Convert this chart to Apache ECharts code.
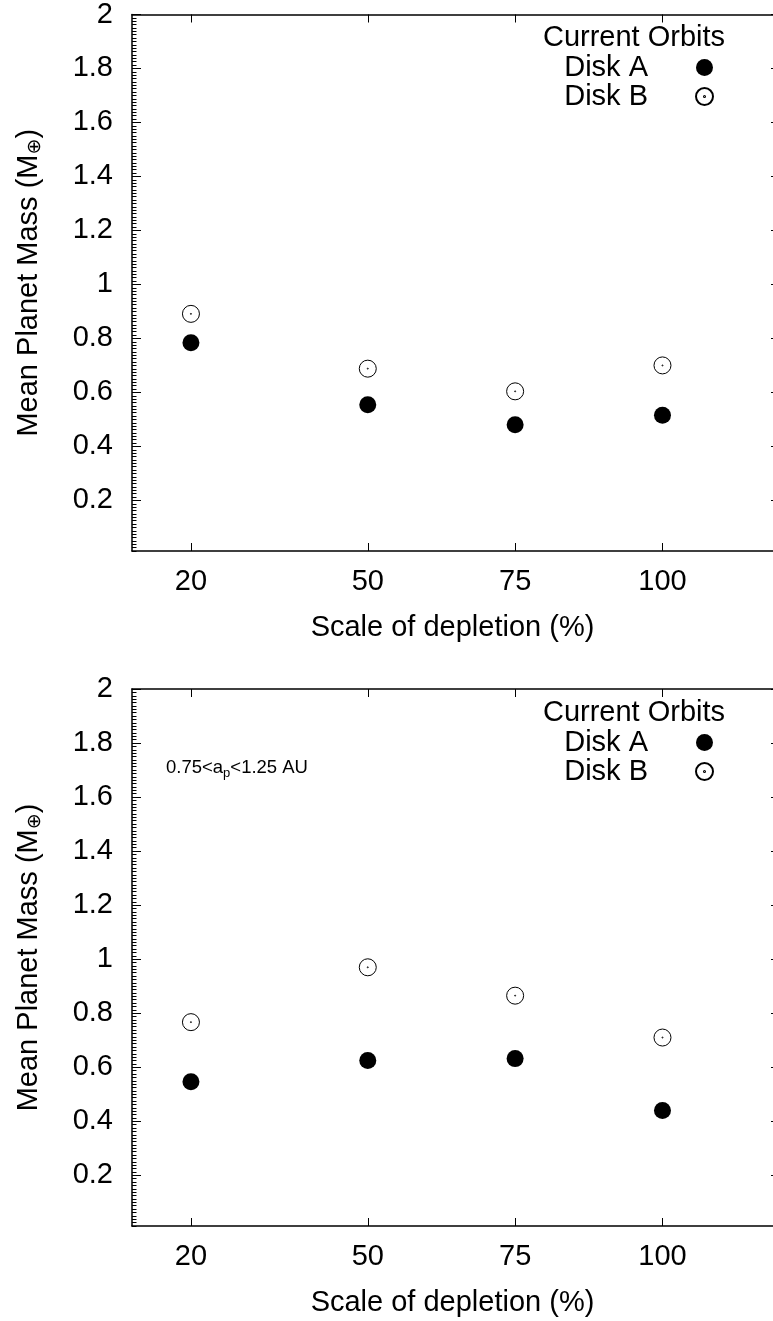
<!DOCTYPE html>
<html>
<head>
<meta charset="utf-8">
<script src="https://cdn.jsdelivr.net/npm/echarts@6/dist/echarts.min.js"></script>
<style>
  html, body { margin: 0; padding: 0; background: #fff; }
  #chart { width: 773px; height: 1321px; }
</style>
</head>
<body>
<div id="chart"></div>
<script>
// data
const depletion = [20, 50, 75, 100];
const topDiskA = [0.784, 0.554, 0.480, 0.515];
const topDiskB = [0.891, 0.688, 0.604, 0.700];
const botDiskA = [0.546, 0.625, 0.632, 0.440];
const botDiskB = [0.767, 0.970, 0.865, 0.710];
const xTicks = [20, 50, 75, 100];
const yTicks = [0.2, 0.4, 0.6, 0.8, 1, 1.2, 1.4, 1.6, 1.8, 2];
const seriesNames = ["Disk A", "Disk B"];

const FONT = "'Liberation Sans', Arial, 'DejaVu Sans', sans-serif";
const FS = 29;
const BLACK = "#000";
// open circle with a tiny centre dot (gnuplot style)
const RING = "path://M10,0A10,10,0,1,1,10,20A10,10,0,1,1,10,0ZM10,9.4A0.6,0.6,0,1,1,10,10.6A0.6,0.6,0,1,1,10,9.4Z";

// the original plot is cut off on the right, so the x range ends just short of 120
const X_MIN = 10, X_MAX = 118.75;

const panels = [
  { top: 14, a: topDiskA, b: topDiskB },
  { top: 689, a: botDiskA, b: botDiskB },
];

const pairs = (xs, ys) => xs.map((x, i) => [x, ys[i]]);
const line = { show: true, onZero: false, lineStyle: { color: BLACK, width: 1.5 } };

const grid = [], xAxis = [], yAxis = [], series = [], legend = [];
panels.forEach((p, i) => {
  grid.push({ left: 132, top: p.top, right: 0, height: 537 });

  xAxis.push({
    gridIndex: i, type: "value", min: X_MIN, max: X_MAX, position: "bottom",
    axisLine: line, splitLine: { show: false },
    axisTick: { inside: true, length: 8, customValues: xTicks, lineStyle: { color: BLACK, width: 1 } },
    axisLabel: { customValues: xTicks, margin: 16, fontSize: FS, color: BLACK, fontFamily: FONT },
    name: "Scale of depletion (%)", nameLocation: "middle", nameGap: 62,
    nameTextStyle: { fontSize: FS, color: BLACK, fontFamily: FONT },
  });
  xAxis.push({
    gridIndex: i, type: "value", min: X_MIN, max: X_MAX, position: "top",
    axisLine: line, splitLine: { show: false }, axisLabel: { show: false },
    axisTick: { inside: true, length: 8, customValues: xTicks, lineStyle: { color: BLACK, width: 1 } },
  });

  yAxis.push({
    gridIndex: i, type: "value", min: 0.0125, max: 2, position: "left",
    axisLine: line, splitLine: { show: false },
    axisTick: { inside: true, length: 9, customValues: yTicks, lineStyle: { color: BLACK, width: 1 } },
    axisLabel: { customValues: yTicks, margin: 19, fontSize: FS, color: BLACK, fontFamily: FONT },
    name: "Mean Planet Mass (M{sub|⊕})", nameLocation: "middle", nameRotate: 90, nameGap: 88,
    nameTextStyle: {
      fontSize: FS, color: BLACK, fontFamily: FONT,
      rich: { sub: { fontSize: 19, color: BLACK, fontFamily: FONT, padding: [12, 0, 0, 0] } },
    },
  });
  // minor ticks
  yAxis.push({
    gridIndex: i, type: "value", min: 0.0125, max: 2, interval: 0.0125, position: "left",
    axisLine: { show: false }, splitLine: { show: false }, axisLabel: { show: false },
    axisTick: { inside: true, length: 4.5, lineStyle: { color: BLACK, width: 1 } },
  });
  // mirror ticks, border itself is outside the picture
  yAxis.push({
    gridIndex: i, type: "value", min: 0.0125, max: 2, position: "right",
    axisLine: { show: false }, splitLine: { show: false }, axisLabel: { show: false },
    axisTick: { show: true, inside: true, length: 2, customValues: yTicks, lineStyle: { color: BLACK, width: 1 } },
  });

  series.push({
    name: seriesNames[0], type: "scatter", xAxisIndex: 2 * i, yAxisIndex: 3 * i,
    symbol: "circle", symbolSize: 17, itemStyle: { color: BLACK, opacity: 1 },
    data: pairs(depletion, p.a), silent: true,
  });
  series.push({
    name: seriesNames[1], type: "scatter", xAxisIndex: 2 * i, yAxisIndex: 3 * i,
    symbol: RING, symbolSize: 17, itemStyle: { color: "#fff", borderColor: BLACK, borderWidth: 1, opacity: 1 },
    data: pairs(depletion, p.b), silent: true,
  });

  legend.push({
    data: seriesNames, orient: "vertical", align: "right", right: 59, top: p.top + 39,
    itemGap: 0, itemWidth: 17, itemHeight: 17, padding: 0, selectedMode: false,
    textStyle: { fontSize: FS, color: BLACK, fontFamily: FONT, padding: [0, 43, 0, 0] },
  });
});

const graphic = [
  { type: "text", x: 634, y: 38, style: { text: "Current Orbits", font: `${FS}px ${FONT}`, fill: BLACK, align: "center", verticalAlign: "middle" } },
  { type: "text", x: 634, y: 713, style: { text: "Current Orbits", font: `${FS}px ${FONT}`, fill: BLACK, align: "center", verticalAlign: "middle" } },
  {
    type: "text", x: 166, y: 768,
    style: {
      text: "0.75<a{sub|p}<1.25 AU", fontSize: 18.5, fontFamily: FONT, fill: BLACK, verticalAlign: "middle",
      rich: { sub: { fontSize: 13, fontFamily: FONT, fill: BLACK, padding: [10, 0, 0, 0] } },
    },
  },
];

const chart = echarts.init(document.getElementById("chart"), null, { renderer: "canvas" });
chart.setOption({
  backgroundColor: "#fff",
  animation: false,
  grid, xAxis, yAxis, series, legend, graphic,
});
</script>
</body>
</html>
